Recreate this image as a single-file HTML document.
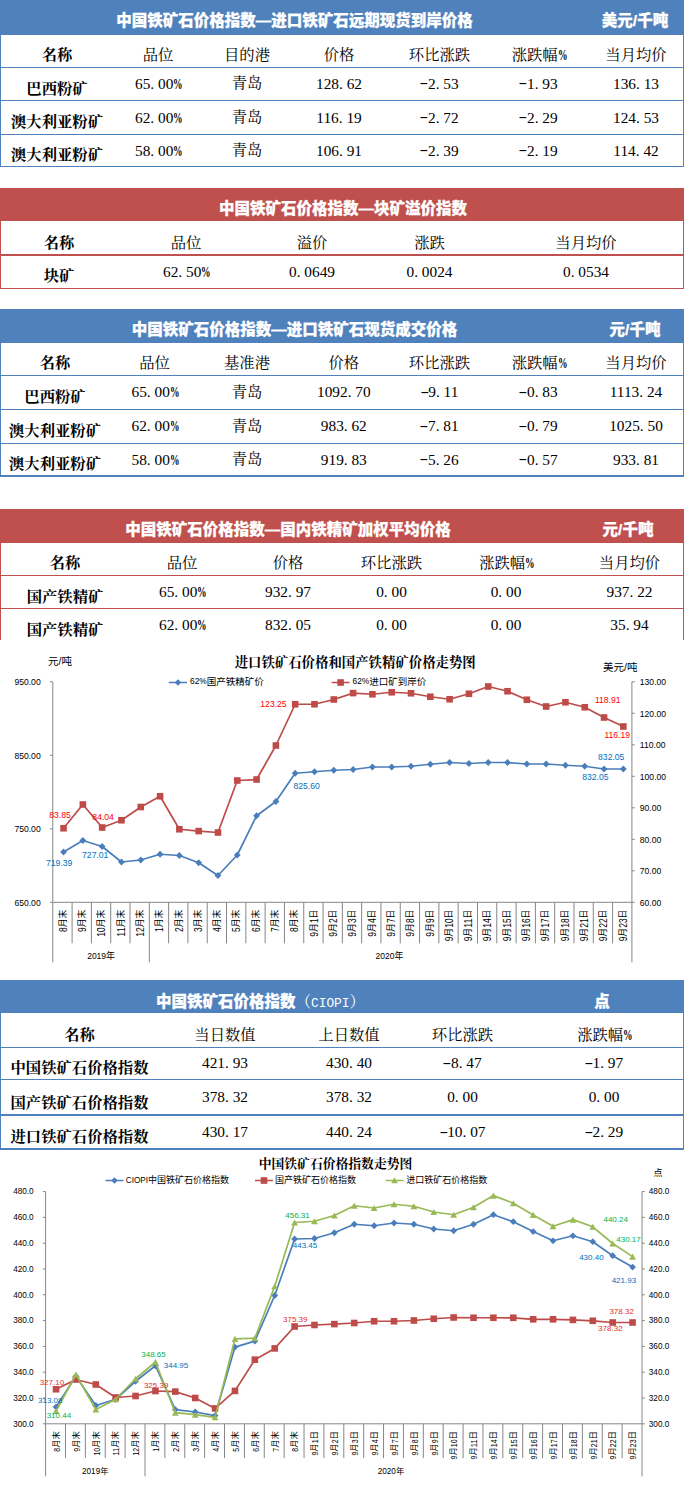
<!DOCTYPE html>
<html lang="zh-CN"><head><meta charset="utf-8"><title>中国铁矿石价格指数</title>
<style>
html,body{margin:0;padding:0;background:#fff}
body{width:684px;height:1487px;position:relative;overflow:hidden;font-family:"Liberation Serif","Noto Serif CJK SC",serif}
.tb{position:absolute;left:0;width:684px;box-sizing:border-box;border-left:1.5px solid;border-right:1px solid}
.hd{position:absolute;left:0;width:684px}
.ln{position:absolute;left:0;width:684px}
.t{position:absolute;width:300px;height:24px;line-height:24px;text-align:center;white-space:nowrap;color:#000;font-size:15.33px}
.k{font-family:"Liberation Serif","Noto Serif CJK SC",serif;font-weight:400}
.kb{font-family:"Liberation Serif","Noto Serif CJK SC",serif;font-weight:700}
.h{font-family:"Liberation Sans","Noto Sans CJK SC",sans-serif;font-weight:900;color:#fff;font-size:15.5px;-webkit-text-stroke:0.25px #fff}
.h span{-webkit-text-stroke:0}
.lt{font-family:"Liberation Serif","Noto Serif CJK SC",serif;font-weight:400}
.mo{font-family:"Liberation Mono",monospace;font-size:12.8px;font-weight:400}
i{font-style:normal;display:inline-block;width:0.5em;text-align:left}
i.m{text-align:center;transform:scaleX(1.7);position:relative;top:-1.6px}
i.c{transform:scaleX(.62);transform-origin:0 50%;font-weight:700}
svg{position:absolute;left:0;top:0}
svg text{font-family:"Liberation Sans","Noto Sans CJK SC",sans-serif;font-weight:400}
</style></head><body>

<div class="tb" style="top:0px;height:167.40px;border-color:#4F81BD"></div>
<div class="hd" style="top:0px;height:34.60px;background:#4F81BD"></div>
<div class="ln" style="top:66.90px;height:1px;background:#4F81BD"></div>
<div class="ln" style="top:100.20px;height:1px;background:#4F81BD"></div>
<div class="ln" style="top:133.90px;height:1px;background:#4F81BD"></div>
<div class="ln" style="top:165.90px;height:1.5px;background:#4F81BD"></div>
<div class="t h" style="left:44.50px;width:500px;top:9.00px">中国铁矿石价格指数—进口铁矿石远期现货到岸价格</div>
<div class="t h" style="left:485.00px;top:9.00px">美元/千吨</div>
<div class="t kb" style="left:-93.00px;top:42.70px">名称</div>
<div class="t k" style="left:8.00px;top:42.70px">品位</div>
<div class="t k" style="left:97.00px;top:42.70px">目的港</div>
<div class="t k" style="left:189.00px;top:42.70px">价格</div>
<div class="t k" style="left:289.50px;top:42.70px">环比涨跌</div>
<div class="t k" style="left:388.50px;top:42.70px">涨跌幅<i class="c">%</i></div>
<div class="t k" style="left:486.00px;top:42.70px">当月均价</div>
<div class="t kb" style="left:-93.00px;top:76.50px">巴西粉矿</div>
<div class="t k" style="left:8.00px;top:72.05px">65<i class="p">.</i>00<i class="c">%</i></div>
<div class="t k" style="left:97.00px;top:71.45px">青岛</div>
<div class="t k" style="left:189.00px;top:72.05px">128<i class="p">.</i>62</div>
<div class="t k" style="left:289.50px;top:72.05px"><i class="m">-</i>2<i class="p">.</i>53</div>
<div class="t k" style="left:388.50px;top:72.05px"><i class="m">-</i>1<i class="p">.</i>93</div>
<div class="t k" style="left:486.00px;top:72.05px">136<i class="p">.</i>13</div>
<div class="t kb" style="left:-93.00px;top:109.90px">澳大利亚粉矿</div>
<div class="t k" style="left:8.00px;top:105.55px">62<i class="p">.</i>00<i class="c">%</i></div>
<div class="t k" style="left:97.00px;top:104.95px">青岛</div>
<div class="t k" style="left:189.00px;top:105.55px">116<i class="p">.</i>19</div>
<div class="t k" style="left:289.50px;top:105.55px"><i class="m">-</i>2<i class="p">.</i>72</div>
<div class="t k" style="left:388.50px;top:105.55px"><i class="m">-</i>2<i class="p">.</i>29</div>
<div class="t k" style="left:486.00px;top:105.55px">124<i class="p">.</i>53</div>
<div class="t kb" style="left:-93.00px;top:143.40px">澳大利亚粉矿</div>
<div class="t k" style="left:8.00px;top:138.90px">58<i class="p">.</i>00<i class="c">%</i></div>
<div class="t k" style="left:97.00px;top:138.30px">青岛</div>
<div class="t k" style="left:189.00px;top:138.90px">106<i class="p">.</i>91</div>
<div class="t k" style="left:289.50px;top:138.90px"><i class="m">-</i>2<i class="p">.</i>39</div>
<div class="t k" style="left:388.50px;top:138.90px"><i class="m">-</i>2<i class="p">.</i>19</div>
<div class="t k" style="left:486.00px;top:138.90px">114<i class="p">.</i>42</div>
<div class="tb" style="top:187.9px;height:101.00px;border-color:#C0504D"></div>
<div class="hd" style="top:187.9px;height:33.50px;background:#C0504D"></div>
<div class="ln" style="top:254.10px;height:2px;background:#C0504D"></div>
<div class="ln" style="top:287.90px;height:1px;background:#C0504D"></div>
<div class="t h" style="left:93.00px;width:500px;top:197.00px">中国铁矿石价格指数—块矿溢价指数</div>
<div class="t kb" style="left:-91.00px;top:230.60px">名称</div>
<div class="t k" style="left:36.00px;top:230.60px">品位</div>
<div class="t k" style="left:162.00px;top:230.60px">溢价</div>
<div class="t k" style="left:279.50px;top:230.60px">涨跌</div>
<div class="t k" style="left:436.00px;top:230.60px">当月均价</div>
<div class="t kb" style="left:-91.00px;top:263.70px">块矿</div>
<div class="t k" style="left:36.00px;top:260.00px">62<i class="p">.</i>50<i class="c">%</i></div>
<div class="t k" style="left:162.00px;top:260.00px">0<i class="p">.</i>0649</div>
<div class="t k" style="left:279.50px;top:260.00px">0<i class="p">.</i>0024</div>
<div class="t k" style="left:436.00px;top:260.00px">0<i class="p">.</i>0534</div>
<div class="tb" style="top:308.5px;height:168.40px;border-color:#4F81BD"></div>
<div class="hd" style="top:308.5px;height:34.20px;background:#4F81BD"></div>
<div class="ln" style="top:374.60px;height:1px;background:#4F81BD"></div>
<div class="ln" style="top:409.00px;height:1px;background:#4F81BD"></div>
<div class="ln" style="top:442.60px;height:1px;background:#4F81BD"></div>
<div class="ln" style="top:475.40px;height:1.5px;background:#4F81BD"></div>
<div class="t h" style="left:44.50px;width:500px;top:317.80px">中国铁矿石价格指数—进口铁矿石现货成交价格</div>
<div class="t h" style="left:485.00px;top:317.80px">元/千吨</div>
<div class="t kb" style="left:-95.00px;top:351.40px">名称</div>
<div class="t k" style="left:4.50px;top:351.40px">品位</div>
<div class="t k" style="left:97.00px;top:351.40px">基准港</div>
<div class="t k" style="left:193.80px;top:351.40px">价格</div>
<div class="t k" style="left:289.50px;top:351.40px">环比涨跌</div>
<div class="t k" style="left:388.50px;top:351.40px">涨跌幅<i class="c">%</i></div>
<div class="t k" style="left:486.00px;top:351.40px">当月均价</div>
<div class="t kb" style="left:-95.00px;top:385.10px">巴西粉矿</div>
<div class="t k" style="left:4.50px;top:380.30px">65<i class="p">.</i>00<i class="c">%</i></div>
<div class="t k" style="left:97.00px;top:379.70px">青岛</div>
<div class="t k" style="left:193.80px;top:380.30px">1092<i class="p">.</i>70</div>
<div class="t k" style="left:289.50px;top:380.30px"><i class="m">-</i>9<i class="p">.</i>11</div>
<div class="t k" style="left:388.50px;top:380.30px"><i class="m">-</i>0<i class="p">.</i>83</div>
<div class="t k" style="left:486.00px;top:380.30px">1113<i class="p">.</i>24</div>
<div class="t kb" style="left:-95.00px;top:418.90px">澳大利亚粉矿</div>
<div class="t k" style="left:4.50px;top:414.30px">62<i class="p">.</i>00<i class="c">%</i></div>
<div class="t k" style="left:97.00px;top:413.70px">青岛</div>
<div class="t k" style="left:193.80px;top:414.30px">983<i class="p">.</i>62</div>
<div class="t k" style="left:289.50px;top:414.30px"><i class="m">-</i>7<i class="p">.</i>81</div>
<div class="t k" style="left:388.50px;top:414.30px"><i class="m">-</i>0<i class="p">.</i>79</div>
<div class="t k" style="left:486.00px;top:414.30px">1025<i class="p">.</i>50</div>
<div class="t kb" style="left:-95.00px;top:451.90px">澳大利亚粉矿</div>
<div class="t k" style="left:4.50px;top:448.00px">58<i class="p">.</i>00<i class="c">%</i></div>
<div class="t k" style="left:97.00px;top:447.40px">青岛</div>
<div class="t k" style="left:193.80px;top:448.00px">919<i class="p">.</i>83</div>
<div class="t k" style="left:289.50px;top:448.00px"><i class="m">-</i>5<i class="p">.</i>26</div>
<div class="t k" style="left:388.50px;top:448.00px"><i class="m">-</i>0<i class="p">.</i>57</div>
<div class="t k" style="left:486.00px;top:448.00px">933<i class="p">.</i>81</div>
<div class="tb" style="top:508.5px;height:131.20px;border-color:#C0504D"></div>
<div class="hd" style="top:508.5px;height:34.20px;background:#C0504D"></div>
<div class="ln" style="top:575.00px;height:1px;background:#C0504D"></div>
<div class="ln" style="top:607.80px;height:1px;background:#C0504D"></div>
<div class="t h" style="left:38.00px;width:500px;top:517.80px">中国铁矿石价格指数—国内铁精矿加权平均价格</div>
<div class="t h" style="left:478.00px;top:517.80px">元/千吨</div>
<div class="t kb" style="left:-85.00px;top:551.00px">名称</div>
<div class="t k" style="left:32.00px;top:551.00px">品位</div>
<div class="t k" style="left:138.00px;top:551.00px">价格</div>
<div class="t k" style="left:241.50px;top:551.00px">环比涨跌</div>
<div class="t k" style="left:356.00px;top:551.00px">涨跌幅<i class="c">%</i></div>
<div class="t k" style="left:479.50px;top:551.00px">当月均价</div>
<div class="t kb" style="left:-85.00px;top:584.50px">国产铁精矿</div>
<div class="t k" style="left:32.00px;top:579.90px">65<i class="p">.</i>00<i class="c">%</i></div>
<div class="t k" style="left:138.00px;top:579.90px">932<i class="p">.</i>97</div>
<div class="t k" style="left:241.50px;top:579.90px">0<i class="p">.</i>00</div>
<div class="t k" style="left:356.00px;top:579.90px">0<i class="p">.</i>00</div>
<div class="t k" style="left:479.50px;top:579.90px">937<i class="p">.</i>22</div>
<div class="t kb" style="left:-85.00px;top:617.50px">国产铁精矿</div>
<div class="t k" style="left:32.00px;top:613.00px">62<i class="p">.</i>00<i class="c">%</i></div>
<div class="t k" style="left:138.00px;top:613.00px">832<i class="p">.</i>05</div>
<div class="t k" style="left:241.50px;top:613.00px">0<i class="p">.</i>00</div>
<div class="t k" style="left:356.00px;top:613.00px">0<i class="p">.</i>00</div>
<div class="t k" style="left:479.50px;top:613.00px">35<i class="p">.</i>94</div>
<div class="tb" style="top:980px;height:169.80px;border-color:#4F81BD"></div>
<div class="hd" style="top:980px;height:33.10px;background:#4F81BD"></div>
<div class="ln" style="top:1046.80px;height:1px;background:#4F81BD"></div>
<div class="ln" style="top:1078.80px;height:1px;background:#4F81BD"></div>
<div class="ln" style="top:1114.05px;height:1.7px;background:#4F81BD"></div>
<div class="ln" style="top:1148.10px;height:1.7px;background:#4F81BD"></div>
<div class="t h" style="left:10.50px;width:500px;top:989.70px">中国铁矿石价格指数<span class="lt">（<span class="mo">CIOPI</span>）</span></div>
<div class="t h" style="left:452.00px;top:989.70px">点</div>
<div class="t kb" style="left:-70.50px;top:1022.70px">名称</div>
<div class="t k" style="left:75.00px;top:1022.70px">当日数值</div>
<div class="t k" style="left:199.00px;top:1022.70px">上日数值</div>
<div class="t k" style="left:312.50px;top:1022.70px">环比涨跌</div>
<div class="t k" style="left:454.00px;top:1022.70px">涨跌幅<i class="c">%</i></div>
<div class="t kb" style="left:-70.50px;top:1056.10px">中国铁矿石价格指数</div>
<div class="t k" style="left:75.00px;top:1051.30px">421<i class="p">.</i>93</div>
<div class="t k" style="left:199.00px;top:1051.30px">430<i class="p">.</i>40</div>
<div class="t k" style="left:312.50px;top:1051.30px"><i class="m">-</i>8<i class="p">.</i>47</div>
<div class="t k" style="left:454.00px;top:1051.30px"><i class="m">-</i>1<i class="p">.</i>97</div>
<div class="t kb" style="left:-70.50px;top:1090.60px">国产铁矿石价格指数</div>
<div class="t k" style="left:75.00px;top:1085.10px">378<i class="p">.</i>32</div>
<div class="t k" style="left:199.00px;top:1085.10px">378<i class="p">.</i>32</div>
<div class="t k" style="left:312.50px;top:1085.10px">0<i class="p">.</i>00</div>
<div class="t k" style="left:454.00px;top:1085.10px">0<i class="p">.</i>00</div>
<div class="t kb" style="left:-70.50px;top:1124.60px">进口铁矿石价格指数</div>
<div class="t k" style="left:75.00px;top:1120.35px">430<i class="p">.</i>17</div>
<div class="t k" style="left:199.00px;top:1120.35px">440<i class="p">.</i>24</div>
<div class="t k" style="left:312.50px;top:1120.35px"><i class="m">-</i>10<i class="p">.</i>07</div>
<div class="t k" style="left:454.00px;top:1120.35px"><i class="m">-</i>2<i class="p">.</i>29</div>
<svg width="684" height="1487" viewBox="0 0 684 1487">
<path d="M52.8 681.8V962.3M631.9 681.8V962.3M52.8 902.3H631.9" stroke="#868686" stroke-width="1" fill="none"/>
<path d="M72.10 902.3V943.3M91.41 902.3V943.3M110.71 902.3V943.3M130.01 902.3V943.3M149.32 902.3V962.3M168.62 902.3V943.3M187.92 902.3V943.3M207.23 902.3V943.3M226.53 902.3V943.3M245.83 902.3V943.3M265.14 902.3V943.3M284.44 902.3V943.3M303.74 902.3V943.3M323.05 902.3V943.3M342.35 902.3V943.3M361.65 902.3V943.3M380.96 902.3V943.3M400.26 902.3V943.3M419.56 902.3V943.3M438.87 902.3V943.3M458.17 902.3V943.3M477.47 902.3V943.3M496.78 902.3V943.3M516.08 902.3V943.3M535.38 902.3V943.3M554.69 902.3V943.3M573.99 902.3V943.3M593.29 902.3V943.3M612.60 902.3V943.3" stroke="#868686" stroke-width="1" fill="none"/>
<text x="40.70" y="682.10" font-size="8.6" fill="#000" text-anchor="end" dominant-baseline="central" >950.00</text>
<text x="40.70" y="755.60" font-size="8.6" fill="#000" text-anchor="end" dominant-baseline="central" >850.00</text>
<text x="40.70" y="829.10" font-size="8.6" fill="#000" text-anchor="end" dominant-baseline="central" >750.00</text>
<text x="40.70" y="902.60" font-size="8.6" fill="#000" text-anchor="end" dominant-baseline="central" >650.00</text>
<text x="639.80" y="682.10" font-size="8.6" fill="#000" text-anchor="start" dominant-baseline="central" >130.00</text>
<text x="639.80" y="713.60" font-size="8.6" fill="#000" text-anchor="start" dominant-baseline="central" >120.00</text>
<text x="639.80" y="745.10" font-size="8.6" fill="#000" text-anchor="start" dominant-baseline="central" >110.00</text>
<text x="639.80" y="776.60" font-size="8.6" fill="#000" text-anchor="start" dominant-baseline="central" >100.00</text>
<text x="639.80" y="808.10" font-size="8.6" fill="#000" text-anchor="start" dominant-baseline="central" >90.00</text>
<text x="639.80" y="839.60" font-size="8.6" fill="#000" text-anchor="start" dominant-baseline="central" >80.00</text>
<text x="639.80" y="871.10" font-size="8.6" fill="#000" text-anchor="start" dominant-baseline="central" >70.00</text>
<text x="639.80" y="902.60" font-size="8.6" fill="#000" text-anchor="start" dominant-baseline="central" >60.00</text>
<path d="M50.0 681.80H52.8M50.0 755.30H52.8M50.0 828.80H52.8M50.0 902.30H52.8M631.9 681.80H634.6999999999999M631.9 713.30H634.6999999999999M631.9 744.80H634.6999999999999M631.9 776.30H634.6999999999999M631.9 807.80H634.6999999999999M631.9 839.30H634.6999999999999M631.9 870.80H634.6999999999999M631.9 902.30H634.6999999999999" stroke="#868686" stroke-width="1" fill="none"/>
<text transform="translate(62.75,909.5) rotate(-90)" font-size="8.9" text-anchor="end" dominant-baseline="central"><tspan font-size="10" textLength="4.70" lengthAdjust="spacingAndGlyphs">8</tspan>月末</text>
<text transform="translate(82.05,909.5) rotate(-90)" font-size="8.9" text-anchor="end" dominant-baseline="central"><tspan font-size="10" textLength="4.70" lengthAdjust="spacingAndGlyphs">9</tspan>月末</text>
<text transform="translate(101.36,909.5) rotate(-90)" font-size="8.9" text-anchor="end" dominant-baseline="central"><tspan font-size="10" textLength="9.40" lengthAdjust="spacingAndGlyphs">10</tspan>月末</text>
<text transform="translate(120.66,909.5) rotate(-90)" font-size="8.9" text-anchor="end" dominant-baseline="central"><tspan font-size="10" textLength="9.40" lengthAdjust="spacingAndGlyphs">11</tspan>月末</text>
<text transform="translate(139.97,909.5) rotate(-90)" font-size="8.9" text-anchor="end" dominant-baseline="central"><tspan font-size="10" textLength="9.40" lengthAdjust="spacingAndGlyphs">12</tspan>月末</text>
<text transform="translate(159.27,909.5) rotate(-90)" font-size="8.9" text-anchor="end" dominant-baseline="central"><tspan font-size="10" textLength="4.70" lengthAdjust="spacingAndGlyphs">1</tspan>月末</text>
<text transform="translate(178.57,909.5) rotate(-90)" font-size="8.9" text-anchor="end" dominant-baseline="central"><tspan font-size="10" textLength="4.70" lengthAdjust="spacingAndGlyphs">2</tspan>月末</text>
<text transform="translate(197.88,909.5) rotate(-90)" font-size="8.9" text-anchor="end" dominant-baseline="central"><tspan font-size="10" textLength="4.70" lengthAdjust="spacingAndGlyphs">3</tspan>月末</text>
<text transform="translate(217.18,909.5) rotate(-90)" font-size="8.9" text-anchor="end" dominant-baseline="central"><tspan font-size="10" textLength="4.70" lengthAdjust="spacingAndGlyphs">4</tspan>月末</text>
<text transform="translate(236.48,909.5) rotate(-90)" font-size="8.9" text-anchor="end" dominant-baseline="central"><tspan font-size="10" textLength="4.70" lengthAdjust="spacingAndGlyphs">5</tspan>月末</text>
<text transform="translate(255.79,909.5) rotate(-90)" font-size="8.9" text-anchor="end" dominant-baseline="central"><tspan font-size="10" textLength="4.70" lengthAdjust="spacingAndGlyphs">6</tspan>月末</text>
<text transform="translate(275.09,909.5) rotate(-90)" font-size="8.9" text-anchor="end" dominant-baseline="central"><tspan font-size="10" textLength="4.70" lengthAdjust="spacingAndGlyphs">7</tspan>月末</text>
<text transform="translate(294.39,909.5) rotate(-90)" font-size="8.9" text-anchor="end" dominant-baseline="central"><tspan font-size="10" textLength="4.70" lengthAdjust="spacingAndGlyphs">8</tspan>月末</text>
<text transform="translate(313.70,909.5) rotate(-90)" font-size="8.9" text-anchor="end" dominant-baseline="central"><tspan font-size="10" textLength="4.70" lengthAdjust="spacingAndGlyphs">9</tspan>月<tspan font-size="10" textLength="4.70" lengthAdjust="spacingAndGlyphs">1</tspan>日</text>
<text transform="translate(333.00,909.5) rotate(-90)" font-size="8.9" text-anchor="end" dominant-baseline="central"><tspan font-size="10" textLength="4.70" lengthAdjust="spacingAndGlyphs">9</tspan>月<tspan font-size="10" textLength="4.70" lengthAdjust="spacingAndGlyphs">2</tspan>日</text>
<text transform="translate(352.30,909.5) rotate(-90)" font-size="8.9" text-anchor="end" dominant-baseline="central"><tspan font-size="10" textLength="4.70" lengthAdjust="spacingAndGlyphs">9</tspan>月<tspan font-size="10" textLength="4.70" lengthAdjust="spacingAndGlyphs">3</tspan>日</text>
<text transform="translate(371.61,909.5) rotate(-90)" font-size="8.9" text-anchor="end" dominant-baseline="central"><tspan font-size="10" textLength="4.70" lengthAdjust="spacingAndGlyphs">9</tspan>月<tspan font-size="10" textLength="4.70" lengthAdjust="spacingAndGlyphs">4</tspan>日</text>
<text transform="translate(390.91,909.5) rotate(-90)" font-size="8.9" text-anchor="end" dominant-baseline="central"><tspan font-size="10" textLength="4.70" lengthAdjust="spacingAndGlyphs">9</tspan>月<tspan font-size="10" textLength="4.70" lengthAdjust="spacingAndGlyphs">7</tspan>日</text>
<text transform="translate(410.21,909.5) rotate(-90)" font-size="8.9" text-anchor="end" dominant-baseline="central"><tspan font-size="10" textLength="4.70" lengthAdjust="spacingAndGlyphs">9</tspan>月<tspan font-size="10" textLength="4.70" lengthAdjust="spacingAndGlyphs">8</tspan>日</text>
<text transform="translate(429.52,909.5) rotate(-90)" font-size="8.9" text-anchor="end" dominant-baseline="central"><tspan font-size="10" textLength="4.70" lengthAdjust="spacingAndGlyphs">9</tspan>月<tspan font-size="10" textLength="4.70" lengthAdjust="spacingAndGlyphs">9</tspan>日</text>
<text transform="translate(448.82,909.5) rotate(-90)" font-size="8.9" text-anchor="end" dominant-baseline="central"><tspan font-size="10" textLength="4.70" lengthAdjust="spacingAndGlyphs">9</tspan>月<tspan font-size="10" textLength="9.40" lengthAdjust="spacingAndGlyphs">10</tspan>日</text>
<text transform="translate(468.12,909.5) rotate(-90)" font-size="8.9" text-anchor="end" dominant-baseline="central"><tspan font-size="10" textLength="4.70" lengthAdjust="spacingAndGlyphs">9</tspan>月<tspan font-size="10" textLength="9.40" lengthAdjust="spacingAndGlyphs">11</tspan>日</text>
<text transform="translate(487.43,909.5) rotate(-90)" font-size="8.9" text-anchor="end" dominant-baseline="central"><tspan font-size="10" textLength="4.70" lengthAdjust="spacingAndGlyphs">9</tspan>月<tspan font-size="10" textLength="9.40" lengthAdjust="spacingAndGlyphs">14</tspan>日</text>
<text transform="translate(506.73,909.5) rotate(-90)" font-size="8.9" text-anchor="end" dominant-baseline="central"><tspan font-size="10" textLength="4.70" lengthAdjust="spacingAndGlyphs">9</tspan>月<tspan font-size="10" textLength="9.40" lengthAdjust="spacingAndGlyphs">15</tspan>日</text>
<text transform="translate(526.03,909.5) rotate(-90)" font-size="8.9" text-anchor="end" dominant-baseline="central"><tspan font-size="10" textLength="4.70" lengthAdjust="spacingAndGlyphs">9</tspan>月<tspan font-size="10" textLength="9.40" lengthAdjust="spacingAndGlyphs">16</tspan>日</text>
<text transform="translate(545.33,909.5) rotate(-90)" font-size="8.9" text-anchor="end" dominant-baseline="central"><tspan font-size="10" textLength="4.70" lengthAdjust="spacingAndGlyphs">9</tspan>月<tspan font-size="10" textLength="9.40" lengthAdjust="spacingAndGlyphs">17</tspan>日</text>
<text transform="translate(564.64,909.5) rotate(-90)" font-size="8.9" text-anchor="end" dominant-baseline="central"><tspan font-size="10" textLength="4.70" lengthAdjust="spacingAndGlyphs">9</tspan>月<tspan font-size="10" textLength="9.40" lengthAdjust="spacingAndGlyphs">18</tspan>日</text>
<text transform="translate(583.94,909.5) rotate(-90)" font-size="8.9" text-anchor="end" dominant-baseline="central"><tspan font-size="10" textLength="4.70" lengthAdjust="spacingAndGlyphs">9</tspan>月<tspan font-size="10" textLength="9.40" lengthAdjust="spacingAndGlyphs">21</tspan>日</text>
<text transform="translate(603.24,909.5) rotate(-90)" font-size="8.9" text-anchor="end" dominant-baseline="central"><tspan font-size="10" textLength="4.70" lengthAdjust="spacingAndGlyphs">9</tspan>月<tspan font-size="10" textLength="9.40" lengthAdjust="spacingAndGlyphs">22</tspan>日</text>
<text transform="translate(622.55,909.5) rotate(-90)" font-size="8.9" text-anchor="end" dominant-baseline="central"><tspan font-size="10" textLength="4.70" lengthAdjust="spacingAndGlyphs">9</tspan>月<tspan font-size="10" textLength="9.40" lengthAdjust="spacingAndGlyphs">23</tspan>日</text>
<text x="101.06" y="955.80" font-size="8.9" fill="#000" text-anchor="middle" dominant-baseline="central" ><tspan font-size="8.5">2019</tspan>年</text>
<text x="389.41" y="955.80" font-size="8.9" fill="#000" text-anchor="middle" dominant-baseline="central" ><tspan font-size="8.5">2020</tspan>年</text>
<polyline points="63.55,852.00 82.85,840.50 102.16,846.50 121.46,862.00 140.77,860.00 160.07,854.25 179.37,855.50 198.67,862.75 217.98,875.50 237.28,855.00 256.59,815.75 275.89,801.50 295.19,773.25 314.50,771.75 333.80,770.25 353.10,769.50 372.41,767.00 391.71,767.00 411.01,766.25 430.32,764.25 449.62,762.50 468.92,763.50 488.23,762.50 507.53,762.50 526.83,764.00 546.13,764.00 565.44,765.25 584.74,766.25 604.04,769.00 623.35,769.00" fill="none" stroke="#4A7EBB" stroke-width="1.7" stroke-linejoin="round" stroke-linecap="round"/>
<path d="M63.55 848.60L66.95 852.00L63.55 855.40L60.15 852.00Z" fill="#4A7EBB"/>
<path d="M82.85 837.10L86.25 840.50L82.85 843.90L79.45 840.50Z" fill="#4A7EBB"/>
<path d="M102.16 843.10L105.56 846.50L102.16 849.90L98.76 846.50Z" fill="#4A7EBB"/>
<path d="M121.46 858.60L124.86 862.00L121.46 865.40L118.06 862.00Z" fill="#4A7EBB"/>
<path d="M140.77 856.60L144.17 860.00L140.77 863.40L137.37 860.00Z" fill="#4A7EBB"/>
<path d="M160.07 850.85L163.47 854.25L160.07 857.65L156.67 854.25Z" fill="#4A7EBB"/>
<path d="M179.37 852.10L182.77 855.50L179.37 858.90L175.97 855.50Z" fill="#4A7EBB"/>
<path d="M198.67 859.35L202.07 862.75L198.67 866.15L195.27 862.75Z" fill="#4A7EBB"/>
<path d="M217.98 872.10L221.38 875.50L217.98 878.90L214.58 875.50Z" fill="#4A7EBB"/>
<path d="M237.28 851.60L240.68 855.00L237.28 858.40L233.88 855.00Z" fill="#4A7EBB"/>
<path d="M256.59 812.35L259.99 815.75L256.59 819.15L253.19 815.75Z" fill="#4A7EBB"/>
<path d="M275.89 798.10L279.29 801.50L275.89 804.90L272.49 801.50Z" fill="#4A7EBB"/>
<path d="M295.19 769.85L298.59 773.25L295.19 776.65L291.79 773.25Z" fill="#4A7EBB"/>
<path d="M314.50 768.35L317.90 771.75L314.50 775.15L311.10 771.75Z" fill="#4A7EBB"/>
<path d="M333.80 766.85L337.20 770.25L333.80 773.65L330.40 770.25Z" fill="#4A7EBB"/>
<path d="M353.10 766.10L356.50 769.50L353.10 772.90L349.70 769.50Z" fill="#4A7EBB"/>
<path d="M372.41 763.60L375.81 767.00L372.41 770.40L369.01 767.00Z" fill="#4A7EBB"/>
<path d="M391.71 763.60L395.11 767.00L391.71 770.40L388.31 767.00Z" fill="#4A7EBB"/>
<path d="M411.01 762.85L414.41 766.25L411.01 769.65L407.61 766.25Z" fill="#4A7EBB"/>
<path d="M430.32 760.85L433.72 764.25L430.32 767.65L426.92 764.25Z" fill="#4A7EBB"/>
<path d="M449.62 759.10L453.02 762.50L449.62 765.90L446.22 762.50Z" fill="#4A7EBB"/>
<path d="M468.92 760.10L472.32 763.50L468.92 766.90L465.52 763.50Z" fill="#4A7EBB"/>
<path d="M488.23 759.10L491.63 762.50L488.23 765.90L484.83 762.50Z" fill="#4A7EBB"/>
<path d="M507.53 759.10L510.93 762.50L507.53 765.90L504.13 762.50Z" fill="#4A7EBB"/>
<path d="M526.83 760.60L530.23 764.00L526.83 767.40L523.43 764.00Z" fill="#4A7EBB"/>
<path d="M546.13 760.60L549.53 764.00L546.13 767.40L542.74 764.00Z" fill="#4A7EBB"/>
<path d="M565.44 761.85L568.84 765.25L565.44 768.65L562.04 765.25Z" fill="#4A7EBB"/>
<path d="M584.74 762.85L588.14 766.25L584.74 769.65L581.34 766.25Z" fill="#4A7EBB"/>
<path d="M604.04 765.60L607.44 769.00L604.04 772.40L600.64 769.00Z" fill="#4A7EBB"/>
<path d="M623.35 765.60L626.75 769.00L623.35 772.40L619.95 769.00Z" fill="#4A7EBB"/>
<polyline points="63.55,828.25 82.85,804.50 102.16,827.50 121.46,820.25 140.77,807.00 160.07,796.25 179.37,829.25 198.67,831.10 217.98,832.50 237.28,780.50 256.59,779.50 275.89,745.50 295.19,704.25 314.50,704.25 333.80,699.50 353.10,693.10 372.41,694.25 391.71,692.25 411.01,693.25 430.32,696.75 449.62,699.25 468.92,693.75 488.23,686.50 507.53,691.25 526.83,699.75 546.13,706.50 565.44,702.25 584.74,707.25 604.04,717.50 623.35,726.50" fill="none" stroke="#BE4B48" stroke-width="1.7" stroke-linejoin="round" stroke-linecap="round"/>
<rect x="60.25" y="824.95" width="6.6" height="6.6" fill="#BE4B48"/>
<rect x="79.55" y="801.20" width="6.6" height="6.6" fill="#BE4B48"/>
<rect x="98.86" y="824.20" width="6.6" height="6.6" fill="#BE4B48"/>
<rect x="118.16" y="816.95" width="6.6" height="6.6" fill="#BE4B48"/>
<rect x="137.47" y="803.70" width="6.6" height="6.6" fill="#BE4B48"/>
<rect x="156.77" y="792.95" width="6.6" height="6.6" fill="#BE4B48"/>
<rect x="176.07" y="825.95" width="6.6" height="6.6" fill="#BE4B48"/>
<rect x="195.37" y="827.80" width="6.6" height="6.6" fill="#BE4B48"/>
<rect x="214.68" y="829.20" width="6.6" height="6.6" fill="#BE4B48"/>
<rect x="233.98" y="777.20" width="6.6" height="6.6" fill="#BE4B48"/>
<rect x="253.29" y="776.20" width="6.6" height="6.6" fill="#BE4B48"/>
<rect x="272.59" y="742.20" width="6.6" height="6.6" fill="#BE4B48"/>
<rect x="291.89" y="700.95" width="6.6" height="6.6" fill="#BE4B48"/>
<rect x="311.20" y="700.95" width="6.6" height="6.6" fill="#BE4B48"/>
<rect x="330.50" y="696.20" width="6.6" height="6.6" fill="#BE4B48"/>
<rect x="349.80" y="689.80" width="6.6" height="6.6" fill="#BE4B48"/>
<rect x="369.11" y="690.95" width="6.6" height="6.6" fill="#BE4B48"/>
<rect x="388.41" y="688.95" width="6.6" height="6.6" fill="#BE4B48"/>
<rect x="407.71" y="689.95" width="6.6" height="6.6" fill="#BE4B48"/>
<rect x="427.02" y="693.45" width="6.6" height="6.6" fill="#BE4B48"/>
<rect x="446.32" y="695.95" width="6.6" height="6.6" fill="#BE4B48"/>
<rect x="465.62" y="690.45" width="6.6" height="6.6" fill="#BE4B48"/>
<rect x="484.93" y="683.20" width="6.6" height="6.6" fill="#BE4B48"/>
<rect x="504.23" y="687.95" width="6.6" height="6.6" fill="#BE4B48"/>
<rect x="523.53" y="696.45" width="6.6" height="6.6" fill="#BE4B48"/>
<rect x="542.84" y="703.20" width="6.6" height="6.6" fill="#BE4B48"/>
<rect x="562.14" y="698.95" width="6.6" height="6.6" fill="#BE4B48"/>
<rect x="581.44" y="703.95" width="6.6" height="6.6" fill="#BE4B48"/>
<rect x="600.75" y="714.20" width="6.6" height="6.6" fill="#BE4B48"/>
<rect x="620.05" y="723.20" width="6.6" height="6.6" fill="#BE4B48"/>
<text x="355.2" y="662.6" font-size="13.4" text-anchor="middle" dominant-baseline="central" style="font-weight:700;font-family:'Liberation Serif','Noto Serif CJK SC',serif">进口铁矿石价格和国产铁精矿价格走势图</text>
<text x="48.00" y="660.60" font-size="10.5" fill="#000" text-anchor="start" dominant-baseline="central" >元/吨</text>
<text x="603.00" y="666.80" font-size="10.5" fill="#000" text-anchor="start" dominant-baseline="central" >美元/吨</text>
<path d="M168.8 682.5H187" stroke="#4A7EBB" stroke-width="1.5"/>
<path d="M178.00 679.20L181.30 682.50L178.00 685.80L174.70 682.50Z" fill="#4A7EBB"/>
<text x="190.00" y="681.30" font-size="9.5" fill="#000" text-anchor="start" dominant-baseline="central" ><tspan font-size="8.4">62%</tspan>国产铁精矿价</text>
<path d="M331.7 682.5H349.6" stroke="#BE4B48" stroke-width="1.5"/>
<rect x="337.30" y="679.20" width="6.6" height="6.6" fill="#BE4B48"/>
<text x="352.50" y="681.30" font-size="9.5" fill="#000" text-anchor="start" dominant-baseline="central" ><tspan font-size="8.4">62%</tspan>进口矿到岸价</text>
<text x="60.00" y="814.50" font-size="8.6" fill="#FF0000" text-anchor="middle" dominant-baseline="central" >83.85</text>
<text x="103.12" y="816.75" font-size="8.6" fill="#FF0000" text-anchor="middle" dominant-baseline="central" >84.04</text>
<text x="273.50" y="703.75" font-size="8.6" fill="#FF0000" text-anchor="middle" dominant-baseline="central" >123.25</text>
<text x="607.75" y="700.25" font-size="8.6" fill="#FF0000" text-anchor="middle" dominant-baseline="central" >118.91</text>
<text x="617.25" y="734.50" font-size="8.6" fill="#FF0000" text-anchor="middle" dominant-baseline="central" >116.19</text>
<text x="59.12" y="862.50" font-size="8.6" fill="#0070C0" text-anchor="middle" dominant-baseline="central" >719.39</text>
<text x="95.25" y="855.00" font-size="8.6" fill="#0070C0" text-anchor="middle" dominant-baseline="central" >727.01</text>
<text x="306.62" y="785.50" font-size="8.6" fill="#0070C0" text-anchor="middle" dominant-baseline="central" >825.60</text>
<text x="611.25" y="756.75" font-size="8.6" fill="#0070C0" text-anchor="middle" dominant-baseline="central" >832.05</text>
<text x="595.38" y="777.00" font-size="8.6" fill="#0070C0" text-anchor="middle" dominant-baseline="central" >832.05</text>
<path d="M45.6 1191.6V1476.3M642.0 1191.6V1476.3M45.6 1423.8H642.0" stroke="#868686" stroke-width="1" fill="none"/>
<path d="M65.48 1423.8V1458.1M85.36 1423.8V1458.1M105.24 1423.8V1458.1M125.12 1423.8V1458.1M145.00 1423.8V1476.3M164.88 1423.8V1458.1M184.76 1423.8V1458.1M204.64 1423.8V1458.1M224.52 1423.8V1458.1M244.40 1423.8V1458.1M264.28 1423.8V1458.1M284.16 1423.8V1458.1M304.04 1423.8V1458.1M323.92 1423.8V1458.1M343.80 1423.8V1458.1M363.68 1423.8V1458.1M383.56 1423.8V1458.1M403.44 1423.8V1458.1M423.32 1423.8V1458.1M443.20 1423.8V1458.1M463.08 1423.8V1458.1M482.96 1423.8V1458.1M502.84 1423.8V1458.1M522.72 1423.8V1458.1M542.60 1423.8V1458.1M562.48 1423.8V1458.1M582.36 1423.8V1458.1M602.24 1423.8V1458.1M622.12 1423.8V1458.1" stroke="#868686" stroke-width="1" fill="none"/>
<text x="33.70" y="1191.90" font-size="8.2" fill="#000" text-anchor="end" dominant-baseline="central" >480.0</text>
<text x="33.70" y="1217.70" font-size="8.2" fill="#000" text-anchor="end" dominant-baseline="central" >460.0</text>
<text x="33.70" y="1243.50" font-size="8.2" fill="#000" text-anchor="end" dominant-baseline="central" >440.0</text>
<text x="33.70" y="1269.30" font-size="8.2" fill="#000" text-anchor="end" dominant-baseline="central" >420.0</text>
<text x="33.70" y="1295.10" font-size="8.2" fill="#000" text-anchor="end" dominant-baseline="central" >400.0</text>
<text x="33.70" y="1320.90" font-size="8.2" fill="#000" text-anchor="end" dominant-baseline="central" >380.0</text>
<text x="33.70" y="1346.70" font-size="8.2" fill="#000" text-anchor="end" dominant-baseline="central" >360.0</text>
<text x="33.70" y="1372.50" font-size="8.2" fill="#000" text-anchor="end" dominant-baseline="central" >340.0</text>
<text x="33.70" y="1398.30" font-size="8.2" fill="#000" text-anchor="end" dominant-baseline="central" >320.0</text>
<text x="33.70" y="1424.10" font-size="8.2" fill="#000" text-anchor="end" dominant-baseline="central" >300.0</text>
<text x="648.80" y="1191.90" font-size="8.2" fill="#000" text-anchor="start" dominant-baseline="central" >480.0</text>
<text x="648.80" y="1217.70" font-size="8.2" fill="#000" text-anchor="start" dominant-baseline="central" >460.0</text>
<text x="648.80" y="1243.50" font-size="8.2" fill="#000" text-anchor="start" dominant-baseline="central" >440.0</text>
<text x="648.80" y="1269.30" font-size="8.2" fill="#000" text-anchor="start" dominant-baseline="central" >420.0</text>
<text x="648.80" y="1295.10" font-size="8.2" fill="#000" text-anchor="start" dominant-baseline="central" >400.0</text>
<text x="648.80" y="1320.90" font-size="8.2" fill="#000" text-anchor="start" dominant-baseline="central" >380.0</text>
<text x="648.80" y="1346.70" font-size="8.2" fill="#000" text-anchor="start" dominant-baseline="central" >360.0</text>
<text x="648.80" y="1372.50" font-size="8.2" fill="#000" text-anchor="start" dominant-baseline="central" >340.0</text>
<text x="648.80" y="1398.30" font-size="8.2" fill="#000" text-anchor="start" dominant-baseline="central" >320.0</text>
<text x="648.80" y="1424.10" font-size="8.2" fill="#000" text-anchor="start" dominant-baseline="central" >300.0</text>
<path d="M42.800000000000004 1191.60H45.6M42.800000000000004 1217.40H45.6M42.800000000000004 1243.20H45.6M42.800000000000004 1269.00H45.6M42.800000000000004 1294.80H45.6M42.800000000000004 1320.60H45.6M42.800000000000004 1346.40H45.6M42.800000000000004 1372.20H45.6M42.800000000000004 1398.00H45.6M42.800000000000004 1423.80H45.6M642.0 1191.60H644.8M642.0 1217.40H644.8M642.0 1243.20H644.8M642.0 1269.00H644.8M642.0 1294.80H644.8M642.0 1320.60H644.8M642.0 1346.40H644.8M642.0 1372.20H644.8M642.0 1398.00H644.8M642.0 1423.80H644.8" stroke="#868686" stroke-width="1" fill="none"/>
<text transform="translate(55.84,1431.0) rotate(-90)" font-size="8.4" text-anchor="end" dominant-baseline="central"><tspan font-size="9.8" textLength="3.90" lengthAdjust="spacingAndGlyphs">8</tspan>月末</text>
<text transform="translate(75.72,1431.0) rotate(-90)" font-size="8.4" text-anchor="end" dominant-baseline="central"><tspan font-size="9.8" textLength="3.90" lengthAdjust="spacingAndGlyphs">9</tspan>月末</text>
<text transform="translate(95.60,1431.0) rotate(-90)" font-size="8.4" text-anchor="end" dominant-baseline="central"><tspan font-size="9.8" textLength="7.80" lengthAdjust="spacingAndGlyphs">10</tspan>月末</text>
<text transform="translate(115.48,1431.0) rotate(-90)" font-size="8.4" text-anchor="end" dominant-baseline="central"><tspan font-size="9.8" textLength="7.80" lengthAdjust="spacingAndGlyphs">11</tspan>月末</text>
<text transform="translate(135.36,1431.0) rotate(-90)" font-size="8.4" text-anchor="end" dominant-baseline="central"><tspan font-size="9.8" textLength="7.80" lengthAdjust="spacingAndGlyphs">12</tspan>月末</text>
<text transform="translate(155.24,1431.0) rotate(-90)" font-size="8.4" text-anchor="end" dominant-baseline="central"><tspan font-size="9.8" textLength="3.90" lengthAdjust="spacingAndGlyphs">1</tspan>月末</text>
<text transform="translate(175.12,1431.0) rotate(-90)" font-size="8.4" text-anchor="end" dominant-baseline="central"><tspan font-size="9.8" textLength="3.90" lengthAdjust="spacingAndGlyphs">2</tspan>月末</text>
<text transform="translate(195.00,1431.0) rotate(-90)" font-size="8.4" text-anchor="end" dominant-baseline="central"><tspan font-size="9.8" textLength="3.90" lengthAdjust="spacingAndGlyphs">3</tspan>月末</text>
<text transform="translate(214.88,1431.0) rotate(-90)" font-size="8.4" text-anchor="end" dominant-baseline="central"><tspan font-size="9.8" textLength="3.90" lengthAdjust="spacingAndGlyphs">4</tspan>月末</text>
<text transform="translate(234.76,1431.0) rotate(-90)" font-size="8.4" text-anchor="end" dominant-baseline="central"><tspan font-size="9.8" textLength="3.90" lengthAdjust="spacingAndGlyphs">5</tspan>月末</text>
<text transform="translate(254.64,1431.0) rotate(-90)" font-size="8.4" text-anchor="end" dominant-baseline="central"><tspan font-size="9.8" textLength="3.90" lengthAdjust="spacingAndGlyphs">6</tspan>月末</text>
<text transform="translate(274.52,1431.0) rotate(-90)" font-size="8.4" text-anchor="end" dominant-baseline="central"><tspan font-size="9.8" textLength="3.90" lengthAdjust="spacingAndGlyphs">7</tspan>月末</text>
<text transform="translate(294.40,1431.0) rotate(-90)" font-size="8.4" text-anchor="end" dominant-baseline="central"><tspan font-size="9.8" textLength="3.90" lengthAdjust="spacingAndGlyphs">8</tspan>月末</text>
<text transform="translate(314.28,1431.0) rotate(-90)" font-size="8.4" text-anchor="end" dominant-baseline="central"><tspan font-size="9.8" textLength="3.90" lengthAdjust="spacingAndGlyphs">9</tspan>月<tspan font-size="9.8" textLength="3.90" lengthAdjust="spacingAndGlyphs">1</tspan>日</text>
<text transform="translate(334.16,1431.0) rotate(-90)" font-size="8.4" text-anchor="end" dominant-baseline="central"><tspan font-size="9.8" textLength="3.90" lengthAdjust="spacingAndGlyphs">9</tspan>月<tspan font-size="9.8" textLength="3.90" lengthAdjust="spacingAndGlyphs">2</tspan>日</text>
<text transform="translate(354.04,1431.0) rotate(-90)" font-size="8.4" text-anchor="end" dominant-baseline="central"><tspan font-size="9.8" textLength="3.90" lengthAdjust="spacingAndGlyphs">9</tspan>月<tspan font-size="9.8" textLength="3.90" lengthAdjust="spacingAndGlyphs">3</tspan>日</text>
<text transform="translate(373.92,1431.0) rotate(-90)" font-size="8.4" text-anchor="end" dominant-baseline="central"><tspan font-size="9.8" textLength="3.90" lengthAdjust="spacingAndGlyphs">9</tspan>月<tspan font-size="9.8" textLength="3.90" lengthAdjust="spacingAndGlyphs">4</tspan>日</text>
<text transform="translate(393.80,1431.0) rotate(-90)" font-size="8.4" text-anchor="end" dominant-baseline="central"><tspan font-size="9.8" textLength="3.90" lengthAdjust="spacingAndGlyphs">9</tspan>月<tspan font-size="9.8" textLength="3.90" lengthAdjust="spacingAndGlyphs">7</tspan>日</text>
<text transform="translate(413.68,1431.0) rotate(-90)" font-size="8.4" text-anchor="end" dominant-baseline="central"><tspan font-size="9.8" textLength="3.90" lengthAdjust="spacingAndGlyphs">9</tspan>月<tspan font-size="9.8" textLength="3.90" lengthAdjust="spacingAndGlyphs">8</tspan>日</text>
<text transform="translate(433.56,1431.0) rotate(-90)" font-size="8.4" text-anchor="end" dominant-baseline="central"><tspan font-size="9.8" textLength="3.90" lengthAdjust="spacingAndGlyphs">9</tspan>月<tspan font-size="9.8" textLength="3.90" lengthAdjust="spacingAndGlyphs">9</tspan>日</text>
<text transform="translate(453.44,1431.0) rotate(-90)" font-size="8.4" text-anchor="end" dominant-baseline="central"><tspan font-size="9.8" textLength="3.90" lengthAdjust="spacingAndGlyphs">9</tspan>月<tspan font-size="9.8" textLength="7.80" lengthAdjust="spacingAndGlyphs">10</tspan>日</text>
<text transform="translate(473.32,1431.0) rotate(-90)" font-size="8.4" text-anchor="end" dominant-baseline="central"><tspan font-size="9.8" textLength="3.90" lengthAdjust="spacingAndGlyphs">9</tspan>月<tspan font-size="9.8" textLength="7.80" lengthAdjust="spacingAndGlyphs">11</tspan>日</text>
<text transform="translate(493.20,1431.0) rotate(-90)" font-size="8.4" text-anchor="end" dominant-baseline="central"><tspan font-size="9.8" textLength="3.90" lengthAdjust="spacingAndGlyphs">9</tspan>月<tspan font-size="9.8" textLength="7.80" lengthAdjust="spacingAndGlyphs">14</tspan>日</text>
<text transform="translate(513.08,1431.0) rotate(-90)" font-size="8.4" text-anchor="end" dominant-baseline="central"><tspan font-size="9.8" textLength="3.90" lengthAdjust="spacingAndGlyphs">9</tspan>月<tspan font-size="9.8" textLength="7.80" lengthAdjust="spacingAndGlyphs">15</tspan>日</text>
<text transform="translate(532.96,1431.0) rotate(-90)" font-size="8.4" text-anchor="end" dominant-baseline="central"><tspan font-size="9.8" textLength="3.90" lengthAdjust="spacingAndGlyphs">9</tspan>月<tspan font-size="9.8" textLength="7.80" lengthAdjust="spacingAndGlyphs">16</tspan>日</text>
<text transform="translate(552.84,1431.0) rotate(-90)" font-size="8.4" text-anchor="end" dominant-baseline="central"><tspan font-size="9.8" textLength="3.90" lengthAdjust="spacingAndGlyphs">9</tspan>月<tspan font-size="9.8" textLength="7.80" lengthAdjust="spacingAndGlyphs">17</tspan>日</text>
<text transform="translate(572.72,1431.0) rotate(-90)" font-size="8.4" text-anchor="end" dominant-baseline="central"><tspan font-size="9.8" textLength="3.90" lengthAdjust="spacingAndGlyphs">9</tspan>月<tspan font-size="9.8" textLength="7.80" lengthAdjust="spacingAndGlyphs">18</tspan>日</text>
<text transform="translate(592.60,1431.0) rotate(-90)" font-size="8.4" text-anchor="end" dominant-baseline="central"><tspan font-size="9.8" textLength="3.90" lengthAdjust="spacingAndGlyphs">9</tspan>月<tspan font-size="9.8" textLength="7.80" lengthAdjust="spacingAndGlyphs">21</tspan>日</text>
<text transform="translate(612.48,1431.0) rotate(-90)" font-size="8.4" text-anchor="end" dominant-baseline="central"><tspan font-size="9.8" textLength="3.90" lengthAdjust="spacingAndGlyphs">9</tspan>月<tspan font-size="9.8" textLength="7.80" lengthAdjust="spacingAndGlyphs">22</tspan>日</text>
<text transform="translate(632.36,1431.0) rotate(-90)" font-size="8.4" text-anchor="end" dominant-baseline="central"><tspan font-size="9.8" textLength="3.90" lengthAdjust="spacingAndGlyphs">9</tspan>月<tspan font-size="9.8" textLength="7.80" lengthAdjust="spacingAndGlyphs">23</tspan>日</text>
<text x="95.30" y="1470.60" font-size="8.4" fill="#000" text-anchor="middle" dominant-baseline="central" ><tspan font-size="8.2">2019</tspan>年</text>
<text x="391.00" y="1470.60" font-size="8.4" fill="#000" text-anchor="middle" dominant-baseline="central" ><tspan font-size="8.2">2020</tspan>年</text>
<polyline points="56.04,1407.00 75.92,1376.25 95.80,1405.50 115.68,1399.25 135.56,1381.25 155.44,1365.75 175.32,1409.60 195.20,1412.00 215.08,1415.60 234.96,1347.10 254.84,1341.10 274.72,1295.50 294.60,1239.00 314.48,1238.50 334.36,1232.75 354.24,1224.25 374.12,1225.75 394.00,1223.00 413.88,1224.25 433.76,1229.00 453.64,1230.75 473.52,1224.25 493.40,1214.70 513.28,1221.70 533.16,1231.60 553.04,1240.80 572.92,1235.80 592.80,1241.70 612.68,1255.70 632.56,1267.10" fill="none" stroke="#4A7EBB" stroke-width="1.7" stroke-linejoin="round" stroke-linecap="round"/>
<path d="M56.04 1403.60L59.44 1407.00L56.04 1410.40L52.64 1407.00Z" fill="#4A7EBB"/>
<path d="M75.92 1372.85L79.32 1376.25L75.92 1379.65L72.52 1376.25Z" fill="#4A7EBB"/>
<path d="M95.80 1402.10L99.20 1405.50L95.80 1408.90L92.40 1405.50Z" fill="#4A7EBB"/>
<path d="M115.68 1395.85L119.08 1399.25L115.68 1402.65L112.28 1399.25Z" fill="#4A7EBB"/>
<path d="M135.56 1377.85L138.96 1381.25L135.56 1384.65L132.16 1381.25Z" fill="#4A7EBB"/>
<path d="M155.44 1362.35L158.84 1365.75L155.44 1369.15L152.04 1365.75Z" fill="#4A7EBB"/>
<path d="M175.32 1406.20L178.72 1409.60L175.32 1413.00L171.92 1409.60Z" fill="#4A7EBB"/>
<path d="M195.20 1408.60L198.60 1412.00L195.20 1415.40L191.80 1412.00Z" fill="#4A7EBB"/>
<path d="M215.08 1412.20L218.48 1415.60L215.08 1419.00L211.68 1415.60Z" fill="#4A7EBB"/>
<path d="M234.96 1343.70L238.36 1347.10L234.96 1350.50L231.56 1347.10Z" fill="#4A7EBB"/>
<path d="M254.84 1337.70L258.24 1341.10L254.84 1344.50L251.44 1341.10Z" fill="#4A7EBB"/>
<path d="M274.72 1292.10L278.12 1295.50L274.72 1298.90L271.32 1295.50Z" fill="#4A7EBB"/>
<path d="M294.60 1235.60L298.00 1239.00L294.60 1242.40L291.20 1239.00Z" fill="#4A7EBB"/>
<path d="M314.48 1235.10L317.88 1238.50L314.48 1241.90L311.08 1238.50Z" fill="#4A7EBB"/>
<path d="M334.36 1229.35L337.76 1232.75L334.36 1236.15L330.96 1232.75Z" fill="#4A7EBB"/>
<path d="M354.24 1220.85L357.64 1224.25L354.24 1227.65L350.84 1224.25Z" fill="#4A7EBB"/>
<path d="M374.12 1222.35L377.52 1225.75L374.12 1229.15L370.72 1225.75Z" fill="#4A7EBB"/>
<path d="M394.00 1219.60L397.40 1223.00L394.00 1226.40L390.60 1223.00Z" fill="#4A7EBB"/>
<path d="M413.88 1220.85L417.28 1224.25L413.88 1227.65L410.48 1224.25Z" fill="#4A7EBB"/>
<path d="M433.76 1225.60L437.16 1229.00L433.76 1232.40L430.36 1229.00Z" fill="#4A7EBB"/>
<path d="M453.64 1227.35L457.04 1230.75L453.64 1234.15L450.24 1230.75Z" fill="#4A7EBB"/>
<path d="M473.52 1220.85L476.92 1224.25L473.52 1227.65L470.12 1224.25Z" fill="#4A7EBB"/>
<path d="M493.40 1211.30L496.80 1214.70L493.40 1218.10L490.00 1214.70Z" fill="#4A7EBB"/>
<path d="M513.28 1218.30L516.68 1221.70L513.28 1225.10L509.88 1221.70Z" fill="#4A7EBB"/>
<path d="M533.16 1228.20L536.56 1231.60L533.16 1235.00L529.76 1231.60Z" fill="#4A7EBB"/>
<path d="M553.04 1237.40L556.44 1240.80L553.04 1244.20L549.64 1240.80Z" fill="#4A7EBB"/>
<path d="M572.92 1232.40L576.32 1235.80L572.92 1239.20L569.52 1235.80Z" fill="#4A7EBB"/>
<path d="M592.80 1238.30L596.20 1241.70L592.80 1245.10L589.40 1241.70Z" fill="#4A7EBB"/>
<path d="M612.68 1252.30L616.08 1255.70L612.68 1259.10L609.28 1255.70Z" fill="#4A7EBB"/>
<path d="M632.56 1263.70L635.96 1267.10L632.56 1270.50L629.16 1267.10Z" fill="#4A7EBB"/>
<polyline points="56.04,1389.25 75.92,1379.50 95.80,1384.50 115.68,1397.50 135.56,1396.00 155.44,1391.00 175.32,1391.60 195.20,1398.00 215.08,1408.40 234.96,1390.90 254.84,1359.70 274.72,1348.40 294.60,1326.50 314.48,1325.00 334.36,1324.10 354.24,1323.00 374.12,1321.25 394.00,1321.25 413.88,1320.50 433.76,1318.75 453.64,1317.50 473.52,1317.75 493.40,1317.75 513.28,1317.80 533.16,1319.30 553.04,1319.30 572.92,1319.90 592.80,1320.80 612.68,1322.50 632.56,1322.50" fill="none" stroke="#BE4B48" stroke-width="1.7" stroke-linejoin="round" stroke-linecap="round"/>
<rect x="52.74" y="1385.95" width="6.6" height="6.6" fill="#BE4B48"/>
<rect x="72.62" y="1376.20" width="6.6" height="6.6" fill="#BE4B48"/>
<rect x="92.50" y="1381.20" width="6.6" height="6.6" fill="#BE4B48"/>
<rect x="112.38" y="1394.20" width="6.6" height="6.6" fill="#BE4B48"/>
<rect x="132.26" y="1392.70" width="6.6" height="6.6" fill="#BE4B48"/>
<rect x="152.14" y="1387.70" width="6.6" height="6.6" fill="#BE4B48"/>
<rect x="172.02" y="1388.30" width="6.6" height="6.6" fill="#BE4B48"/>
<rect x="191.90" y="1394.70" width="6.6" height="6.6" fill="#BE4B48"/>
<rect x="211.78" y="1405.10" width="6.6" height="6.6" fill="#BE4B48"/>
<rect x="231.66" y="1387.60" width="6.6" height="6.6" fill="#BE4B48"/>
<rect x="251.54" y="1356.40" width="6.6" height="6.6" fill="#BE4B48"/>
<rect x="271.42" y="1345.10" width="6.6" height="6.6" fill="#BE4B48"/>
<rect x="291.30" y="1323.20" width="6.6" height="6.6" fill="#BE4B48"/>
<rect x="311.18" y="1321.70" width="6.6" height="6.6" fill="#BE4B48"/>
<rect x="331.06" y="1320.80" width="6.6" height="6.6" fill="#BE4B48"/>
<rect x="350.94" y="1319.70" width="6.6" height="6.6" fill="#BE4B48"/>
<rect x="370.82" y="1317.95" width="6.6" height="6.6" fill="#BE4B48"/>
<rect x="390.70" y="1317.95" width="6.6" height="6.6" fill="#BE4B48"/>
<rect x="410.58" y="1317.20" width="6.6" height="6.6" fill="#BE4B48"/>
<rect x="430.46" y="1315.45" width="6.6" height="6.6" fill="#BE4B48"/>
<rect x="450.34" y="1314.20" width="6.6" height="6.6" fill="#BE4B48"/>
<rect x="470.22" y="1314.45" width="6.6" height="6.6" fill="#BE4B48"/>
<rect x="490.10" y="1314.45" width="6.6" height="6.6" fill="#BE4B48"/>
<rect x="509.98" y="1314.50" width="6.6" height="6.6" fill="#BE4B48"/>
<rect x="529.86" y="1316.00" width="6.6" height="6.6" fill="#BE4B48"/>
<rect x="549.74" y="1316.00" width="6.6" height="6.6" fill="#BE4B48"/>
<rect x="569.62" y="1316.60" width="6.6" height="6.6" fill="#BE4B48"/>
<rect x="589.50" y="1317.50" width="6.6" height="6.6" fill="#BE4B48"/>
<rect x="609.38" y="1319.20" width="6.6" height="6.6" fill="#BE4B48"/>
<rect x="629.26" y="1319.20" width="6.6" height="6.6" fill="#BE4B48"/>
<polyline points="56.04,1411.00 75.92,1374.50 95.80,1409.50 115.68,1399.25 135.56,1378.75 155.44,1362.00 175.32,1412.60 195.20,1414.70 215.08,1417.30 234.96,1338.90 254.84,1338.20 274.72,1286.25 294.60,1222.50 314.48,1221.25 334.36,1215.50 354.24,1205.75 374.12,1208.00 394.00,1204.25 413.88,1206.25 433.76,1212.00 453.64,1214.75 473.52,1207.25 493.40,1195.60 513.28,1203.20 533.16,1214.90 553.04,1226.20 572.92,1219.60 592.80,1226.80 612.68,1243.50 632.56,1256.60" fill="none" stroke="#98B954" stroke-width="1.7" stroke-linejoin="round" stroke-linecap="round"/>
<path d="M56.04 1407.94L59.44 1414.06L52.64 1414.06Z" fill="#98B954"/>
<path d="M75.92 1371.44L79.32 1377.56L72.52 1377.56Z" fill="#98B954"/>
<path d="M95.80 1406.44L99.20 1412.56L92.40 1412.56Z" fill="#98B954"/>
<path d="M115.68 1396.19L119.08 1402.31L112.28 1402.31Z" fill="#98B954"/>
<path d="M135.56 1375.69L138.96 1381.81L132.16 1381.81Z" fill="#98B954"/>
<path d="M155.44 1358.94L158.84 1365.06L152.04 1365.06Z" fill="#98B954"/>
<path d="M175.32 1409.54L178.72 1415.66L171.92 1415.66Z" fill="#98B954"/>
<path d="M195.20 1411.64L198.60 1417.76L191.80 1417.76Z" fill="#98B954"/>
<path d="M215.08 1414.24L218.48 1420.36L211.68 1420.36Z" fill="#98B954"/>
<path d="M234.96 1335.84L238.36 1341.96L231.56 1341.96Z" fill="#98B954"/>
<path d="M254.84 1335.14L258.24 1341.26L251.44 1341.26Z" fill="#98B954"/>
<path d="M274.72 1283.19L278.12 1289.31L271.32 1289.31Z" fill="#98B954"/>
<path d="M294.60 1219.44L298.00 1225.56L291.20 1225.56Z" fill="#98B954"/>
<path d="M314.48 1218.19L317.88 1224.31L311.08 1224.31Z" fill="#98B954"/>
<path d="M334.36 1212.44L337.76 1218.56L330.96 1218.56Z" fill="#98B954"/>
<path d="M354.24 1202.69L357.64 1208.81L350.84 1208.81Z" fill="#98B954"/>
<path d="M374.12 1204.94L377.52 1211.06L370.72 1211.06Z" fill="#98B954"/>
<path d="M394.00 1201.19L397.40 1207.31L390.60 1207.31Z" fill="#98B954"/>
<path d="M413.88 1203.19L417.28 1209.31L410.48 1209.31Z" fill="#98B954"/>
<path d="M433.76 1208.94L437.16 1215.06L430.36 1215.06Z" fill="#98B954"/>
<path d="M453.64 1211.69L457.04 1217.81L450.24 1217.81Z" fill="#98B954"/>
<path d="M473.52 1204.19L476.92 1210.31L470.12 1210.31Z" fill="#98B954"/>
<path d="M493.40 1192.54L496.80 1198.66L490.00 1198.66Z" fill="#98B954"/>
<path d="M513.28 1200.14L516.68 1206.26L509.88 1206.26Z" fill="#98B954"/>
<path d="M533.16 1211.84L536.56 1217.96L529.76 1217.96Z" fill="#98B954"/>
<path d="M553.04 1223.14L556.44 1229.26L549.64 1229.26Z" fill="#98B954"/>
<path d="M572.92 1216.54L576.32 1222.66L569.52 1222.66Z" fill="#98B954"/>
<path d="M592.80 1223.74L596.20 1229.86L589.40 1229.86Z" fill="#98B954"/>
<path d="M612.68 1240.44L616.08 1246.56L609.28 1246.56Z" fill="#98B954"/>
<path d="M632.56 1253.54L635.96 1259.66L629.16 1259.66Z" fill="#98B954"/>
<text x="335.5" y="1164.2" font-size="12.8" text-anchor="middle" dominant-baseline="central" style="font-weight:700;font-family:'Liberation Serif','Noto Serif CJK SC',serif">中国铁矿石价格指数走势图</text>
<text x="653.50" y="1173.40" font-size="9" fill="#000" text-anchor="start" dominant-baseline="central" >点</text>
<path d="M105.5 1180.5H123.5" stroke="#4A7EBB" stroke-width="1.5"/>
<path d="M114.50 1177.20L117.80 1180.50L114.50 1183.80L111.20 1180.50Z" fill="#4A7EBB"/>
<text x="125.80" y="1180.00" font-size="9" fill="#000" text-anchor="start" dominant-baseline="central" ><tspan font-size="8.2">CIOPI</tspan>中国铁矿石价格指数</text>
<path d="M255 1180.5H273" stroke="#BE4B48" stroke-width="1.5"/>
<rect x="260.70" y="1177.20" width="6.6" height="6.6" fill="#BE4B48"/>
<text x="275.00" y="1180.00" font-size="9" fill="#000" text-anchor="start" dominant-baseline="central" >国产铁矿石价格指数</text>
<path d="M385.5 1180.5H403.8" stroke="#98B954" stroke-width="1.5"/>
<path d="M394.50 1177.33L397.80 1183.27L391.20 1183.27Z" fill="#98B954"/>
<text x="406.30" y="1180.00" font-size="9" fill="#000" text-anchor="start" dominant-baseline="central" >进口铁矿石价格指数</text>
<text x="51.88" y="1382.50" font-size="8.0" fill="#E0302A" text-anchor="middle" dominant-baseline="central" >327.10</text>
<text x="50.25" y="1400.00" font-size="8.0" fill="#0070C0" text-anchor="middle" dominant-baseline="central" >313.08</text>
<text x="58.88" y="1415.75" font-size="8.0" fill="#00B050" text-anchor="middle" dominant-baseline="central" >310.44</text>
<text x="153.50" y="1354.25" font-size="8.0" fill="#00B050" text-anchor="middle" dominant-baseline="central" >348.65</text>
<text x="176.00" y="1365.50" font-size="8.0" fill="#0070C0" text-anchor="middle" dominant-baseline="central" >344.95</text>
<text x="156.12" y="1385.00" font-size="8.0" fill="#E0302A" text-anchor="middle" dominant-baseline="central" >325.39</text>
<text x="297.50" y="1215.75" font-size="8.0" fill="#00B050" text-anchor="middle" dominant-baseline="central" >456.31</text>
<text x="305.00" y="1245.75" font-size="8.0" fill="#0070C0" text-anchor="middle" dominant-baseline="central" >443.45</text>
<text x="295.25" y="1319.50" font-size="8.0" fill="#E0302A" text-anchor="middle" dominant-baseline="central" >375.39</text>
<text x="615.70" y="1219.30" font-size="8.0" fill="#00B050" text-anchor="middle" dominant-baseline="central" >440.24</text>
<text x="628.50" y="1239.30" font-size="8.0" fill="#00B050" text-anchor="middle" dominant-baseline="central" >430.17</text>
<text x="591.40" y="1257.50" font-size="8.0" fill="#0070C0" text-anchor="middle" dominant-baseline="central" >430.40</text>
<text x="623.90" y="1280.80" font-size="8.0" fill="#0070C0" text-anchor="middle" dominant-baseline="central" >421.93</text>
<text x="621.65" y="1311.20" font-size="8.0" fill="#E0302A" text-anchor="middle" dominant-baseline="central" >378.32</text>
<text x="610.35" y="1328.50" font-size="8.0" fill="#E0302A" text-anchor="middle" dominant-baseline="central" >378.32</text>
</svg>
</body></html>
